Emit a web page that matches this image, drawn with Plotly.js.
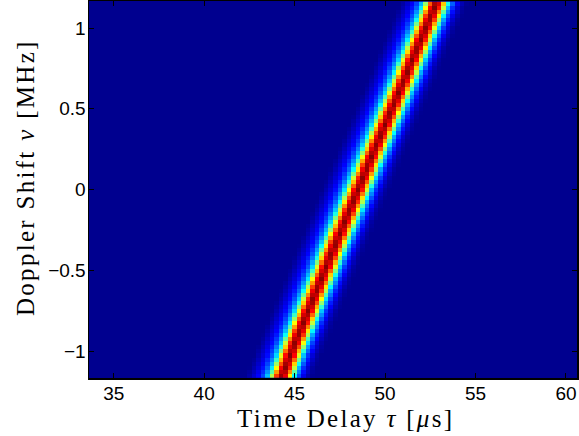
<!DOCTYPE html>
<html>
<head>
<meta charset="utf-8">
<script src="https://cdn.plot.ly/plotly-3.0.1.min.js"></script>
<style>
  html, body { margin: 0; padding: 0; background: #fff; }
  #chart { width: 579px; height: 436px; }
  .annotation-text { letter-spacing: 2.3px; }
</style>
</head>
<body>
<div id="chart"></div>
<script>
// ---- Data ----
// Delay grid (cell centres, microseconds) and Doppler grid (cell centres, MHz)
const tauStart = 33.76, tauStep = 0.25, tauCount = 108;
const nuStart = -1.15, nuStep = 0.025, nuCount = 93;

// Ridge centre (delay of the peak) read at three Doppler values
const ridgeNu  = [-1.15, 0.0, 1.15];
const ridgeTau = [44.31, 48.50, 52.84];

// Cross-section of the ridge along delay: offset from ridge centre (us) and normalised magnitude
const profileOffset = [-2.0, -1.75, -1.5, -1.25, -1.0, -0.75, -0.5, -0.25, 0.0, 0.25, 0.5, 0.75, 1.0, 1.25, 1.5, 1.75];
const profileValue  = [0.0,  0.03,  0.07,  0.12,  0.2,  0.33,  0.6,  0.87,  1.0, 0.87, 0.58, 0.3,  0.16, 0.07, 0.02, 0.0];

// Tick labels
const xTicks = [35, 40, 45, 50, 55, 60];
const yTicks = [-1, -0.5, 0, 0.5, 1];

// ---- Build the grid ----
function interp(xs, ys, x) {
  if (x <= xs[0]) return ys[0];
  if (x >= xs[xs.length - 1]) return ys[ys.length - 1];
  for (let i = 0; i < xs.length - 1; i++) {
    if (x >= xs[i] && x <= xs[i + 1]) {
      const t = (x - xs[i]) / (xs[i + 1] - xs[i]);
      return ys[i] + t * (ys[i + 1] - ys[i]);
    }
  }
  return 0;
}
const tau = Array.from({length: tauCount}, (_, k) => +(tauStart + k * tauStep).toFixed(4));
const nu = Array.from({length: nuCount}, (_, k) => +(nuStart + k * nuStep).toFixed(4));
const z = nu.map(n => {
  const c = interp(ridgeNu, ridgeTau, n);
  return tau.map(t => interp(profileOffset, profileValue, t - c));
});

const jet = [
  [0.0,   'rgb(0,0,143)'],
  [0.111, 'rgb(0,0,255)'],
  [0.365, 'rgb(0,255,255)'],
  [0.619, 'rgb(255,255,0)'],
  [0.873, 'rgb(255,0,0)'],
  [1.0,   'rgb(128,0,0)']
];

const trace = {
  type: 'heatmap',
  x: tau, y: nu, z: z,
  colorscale: jet, zmin: 0, zmax: 1,
  showscale: false, zsmooth: false, hoverinfo: 'skip'
};

const tickFont = {family: '"Liberation Sans", Arial, sans-serif', size: 19, color: '#000'};
const titleFont = {family: '"Liberation Serif", "Times New Roman", serif', size: 25, color: '#000'};

const layout = {
  width: 579, height: 436,
  margin: {l: 89, r: 2, t: 1, b: 58, pad: 0},
  paper_bgcolor: '#fff', plot_bgcolor: 'rgb(0,0,143)',
  showlegend: false,
  xaxis: {
    range: [33.635, 60.61], tickvals: xTicks, ticktext: xTicks.map(String),
    ticks: 'inside', ticklen: 5, tickwidth: 1, tickcolor: '#000',
    showline: true, linecolor: '#000', linewidth: 1.5, mirror: 'ticks',
    showgrid: false, zeroline: false, tickfont: tickFont, ticklabelstandoff: -2
  },
  yaxis: {
    range: [-1.165, 1.167], tickvals: yTicks, ticktext: yTicks.map(v => v < 0 ? '\u2212' + Math.abs(v) : String(v)),
    ticks: 'inside', ticklen: 5, tickwidth: 1, tickcolor: '#000',
    showline: true, linecolor: '#000', linewidth: 1.5, mirror: 'ticks',
    showgrid: false, zeroline: false, tickfont: tickFont, ticklabelstandoff: -2
  },
  annotations: [
    {text: 'Time Delay <i>τ</i> [<i>μ</i>s]', xref: 'paper', yref: 'paper',
     x: 0.5246, y: -0.108, xanchor: 'center', yanchor: 'middle', showarrow: false, font: titleFont},
    {text: 'Doppler Shift <i>ν</i> [MHz]', xref: 'paper', yref: 'paper', textangle: -90,
     x: -0.131, y: 0.5305, xanchor: 'center', yanchor: 'middle', showarrow: false, font: titleFont}
  ]
};

Plotly.newPlot('chart', [trace], layout, {displayModeBar: false, staticPlot: true});
</script>
</body>
</html>
